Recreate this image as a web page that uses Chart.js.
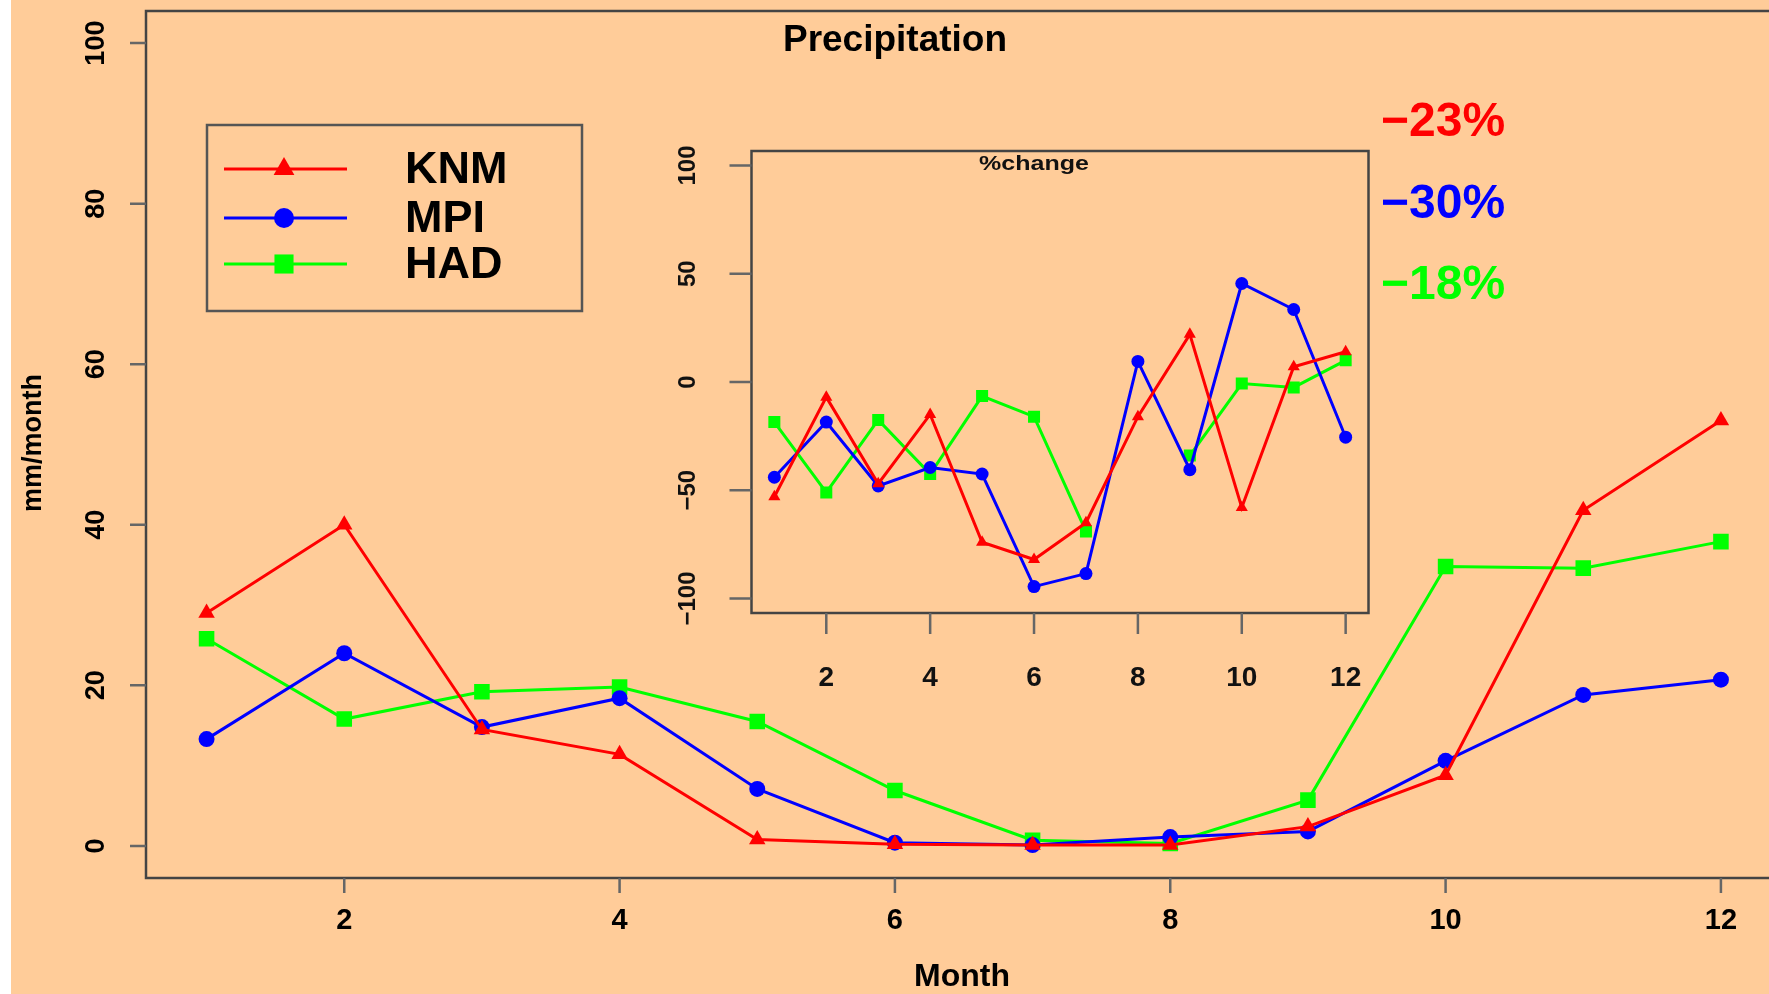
<!DOCTYPE html>
<html>
<head>
<meta charset="utf-8">
<title>Precipitation</title>
<script src="https://cdn.jsdelivr.net/npm/chart.js@4.4.1/dist/chart.umd.min.js"></script>
<style>
  html, body { margin: 0; padding: 0; overflow: hidden; background: #FFCC99; }
  #wrap { position: relative; width: 1769px; height: 994px; overflow: hidden; }
  #main { position: absolute; left: 0; top: 0; }
  #inset { position: absolute; left: 640px; top: 120px; }
</style>
</head>
<body>
<div id="wrap">
  <canvas id="main" width="1800" height="994"></canvas>
  <canvas id="inset" width="760" height="600"></canvas>
</div>
<script>
const months = [1, 2, 3, 4, 5, 6, 7, 8, 9, 10, 11, 12];
const seriesNames = ['KNM', 'MPI', 'HAD'];

// mm/month
const knmPrecip = [29.0, 40.0, 14.5, 11.4, 0.8, 0.2, 0.1, 0.1, 2.4, 8.8, 41.8, 53.0];
const mpiPrecip = [13.3, 24.0, 14.8, 18.4, 7.1, 0.4, 0.1, 1.1, 1.8, 10.6, 18.8, 20.7];
const hadPrecip = [25.8, 15.8, 19.2, 19.8, 15.5, 6.9, 0.7, 0.3, 5.7, 34.8, 34.6, 37.9];

// % change (inset)
const knmChange = [-53, -7, -47, -15, -74, -82, -65, -16, 22, -58, 7, 14];
const mpiChange = [-44, -18.5, -48, -39.5, -42.5, -94.5, -88.5, 9.5, -40.5, 45.5, 33.5, -25.5];
const hadChange = [-18.5, -51, -17.5, -42.5, -6.5, -16, -69, null, -34, -0.7, -2.5, 10];

const changeLabels = ['\u221223%', '\u221230%', '\u221218%'];

const mainXTicks = [2, 4, 6, 8, 10, 12];
const mainYTicks = [0, 20, 40, 60, 80, 100];
const insetXTicks = [2, 4, 6, 8, 10, 12];
const insetYTicks = [-100, -50, 0, 50, 100];

const colors = ['#FF0000', '#0000FF', '#00FF00'];
const styles = ['triangle', 'circle', 'rect'];
const FONT = '"Liberation Sans", Arial, Helvetica, sans-serif';

function makeDatasets(values, radii, lw) {
    return seriesNames.map((name, i) => ({
        label: name,
        data: months.map((m, j) => ({ x: m, y: values[i][j] })),
        borderColor: colors[i],
        backgroundColor: colors[i],
        pointBackgroundColor: colors[i],
        pointStyle: styles[i],
        pointRadius: radii[i],
        pointBorderWidth: 0,
        borderWidth: lw,
        tension: 0,
        spanGaps: false
    }));
}

function rotatedText(ctx, txt, x, y) {
    ctx.save();
    ctx.translate(x, y);
    ctx.rotate(-Math.PI / 2);
    ctx.fillText(txt, 0, 0);
    ctx.restore();
}

const mainDecor = {
    id: 'mainDecor',
    beforeDraw(chart) {
        const ctx = chart.ctx;
        ctx.save();
        ctx.fillStyle = '#FFCC99';
        ctx.fillRect(0, 0, chart.width, chart.height);
        ctx.fillStyle = '#FFFFFF';
        ctx.fillRect(0, 0, 11, chart.height);
        ctx.restore();
    },
    afterDraw(chart) {
        const { ctx, chartArea: a, scales: { x, y } } = chart;
        ctx.save();
        ctx.strokeStyle = '#444';
        ctx.lineWidth = 2.5;
        ctx.strokeRect(a.left, a.top, a.right - a.left, a.bottom - a.top);

        ctx.strokeStyle = '#666';
        ctx.beginPath();
        mainYTicks.forEach(v => {
            const py = y.getPixelForValue(v);
            ctx.moveTo(a.left - 16, py);
            ctx.lineTo(a.left, py);
        });
        mainXTicks.forEach(v => {
            const px = x.getPixelForValue(v);
            ctx.moveTo(px, a.bottom);
            ctx.lineTo(px, a.bottom + 15);
        });
        ctx.stroke();

        ctx.fillStyle = '#000';
        ctx.textAlign = 'center';
        ctx.textBaseline = 'middle';
        ctx.font = 'bold 29px ' + FONT;
        mainXTicks.forEach(v => ctx.fillText(String(v), x.getPixelForValue(v), 921));
        ctx.font = 'bold 27px ' + FONT;
        mainYTicks.forEach(v => rotatedText(ctx, String(v), 97, y.getPixelForValue(v)));

        // titles
        ctx.font = 'bold 37px ' + FONT;
        ctx.fillText('Precipitation', 895, 41);
        ctx.font = 'bold 32px ' + FONT;
        ctx.fillText('Month', 962, 977);
        ctx.font = 'bold 27px ' + FONT;
        rotatedText(ctx, 'mm/month', 34, 443);

        // legend
        ctx.strokeStyle = '#555';
        ctx.lineWidth = 2.5;
        ctx.strokeRect(207, 125, 375, 186);
        const rows = [169, 218, 264];
        const legendRadii = [12, 10, 13.5];
        seriesNames.forEach((name, i) => {
            ctx.strokeStyle = colors[i];
            ctx.fillStyle = colors[i];
            ctx.lineWidth = 3;
            ctx.beginPath();
            ctx.moveTo(224, rows[i]);
            ctx.lineTo(347, rows[i]);
            ctx.stroke();
            Chart.helpers.drawPoint(ctx, { pointStyle: styles[i], radius: legendRadii[i], rotation: 0, borderWidth: 0 }, 284, rows[i]);
            ctx.fillStyle = '#000';
            ctx.textAlign = 'left';
            ctx.font = 'bold 45px ' + FONT;
            ctx.fillText(name, 405, rows[i] + 2);
        });

        // overall change labels
        ctx.font = 'bold 48px ' + FONT;
        const pctRows = [123, 205, 286];
        changeLabels.forEach((t, i) => {
            ctx.fillStyle = colors[i];
            ctx.fillText(t, 1381, pctRows[i]);
        });
        ctx.restore();
    }
};

const insetDecor = {
    id: 'insetDecor',
    afterDraw(chart) {
        const { ctx, chartArea: a, scales: { x, y } } = chart;
        ctx.save();
        ctx.strokeStyle = '#444';
        ctx.lineWidth = 2.5;
        ctx.strokeRect(a.left, a.top, a.right - a.left, a.bottom - a.top);

        ctx.strokeStyle = '#666';
        ctx.beginPath();
        insetYTicks.forEach(v => {
            const py = y.getPixelForValue(v);
            ctx.moveTo(a.left - 22, py);
            ctx.lineTo(a.left, py);
        });
        insetXTicks.forEach(v => {
            const px = x.getPixelForValue(v);
            ctx.moveTo(px, a.bottom);
            ctx.lineTo(px, a.bottom + 21);
        });
        ctx.stroke();

        ctx.fillStyle = '#111';
        ctx.textAlign = 'center';
        ctx.textBaseline = 'middle';
        ctx.font = 'bold 28px ' + FONT;
        insetXTicks.forEach(v => ctx.fillText(String(v), x.getPixelForValue(v), 558));
        ctx.font = 'bold 24px ' + FONT;
        insetYTicks.forEach(v => rotatedText(ctx, String(v).replace('-', '\u2212'), 48, y.getPixelForValue(v)));

        // small, wide title as in the original
        ctx.save();
        ctx.translate(394, 44);
        ctx.scale(1.25, 1);
        ctx.font = 'bold 20px ' + FONT;
        ctx.fillText('%change', 0, 0);
        ctx.restore();
        ctx.restore();
    }
};

new Chart(document.getElementById('main').getContext('2d'), {
    type: 'line',
    data: { datasets: makeDatasets([knmPrecip, mpiPrecip, hadPrecip], [9.5, 8, 11], 3) },
    options: {
        responsive: false,
        animation: false,
        devicePixelRatio: 1,
        events: [],
        layout: { padding: { left: 146, top: 11, right: 18.5, bottom: 116 } },
        plugins: { legend: { display: false }, title: { display: false }, tooltip: { enabled: false } },
        scales: {
            x: { type: 'linear', min: 0.56, max: 12.44, display: false },
            y: { type: 'linear', min: -4, max: 104, display: false }
        }
    },
    plugins: [mainDecor]
});

new Chart(document.getElementById('inset').getContext('2d'), {
    type: 'line',
    data: { datasets: makeDatasets([knmChange, mpiChange, hadChange], [7, 6.5, 8.5], 3) },
    options: {
        responsive: false,
        animation: false,
        devicePixelRatio: 1,
        events: [],
        layout: { padding: { left: 111.5, top: 31, right: 31.5, bottom: 107 } },
        plugins: { legend: { display: false }, title: { display: false }, tooltip: { enabled: false } },
        scales: {
            x: { type: 'linear', min: 0.56, max: 12.44, display: false },
            y: { type: 'linear', min: -106.7, max: 106.7, display: false }
        }
    },
    plugins: [insetDecor]
});
</script>
</body>
</html>
